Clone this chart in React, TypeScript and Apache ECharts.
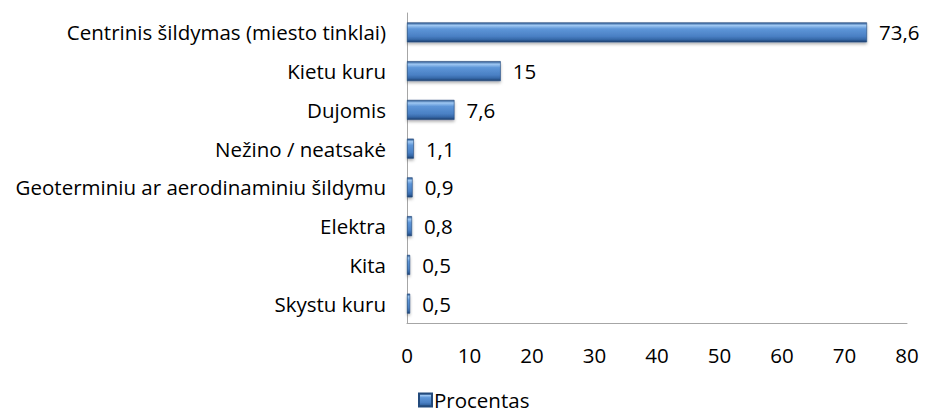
import React, { useEffect, useRef } from "react";
import * as echarts from "echarts";

const categories = [
  "Centrinis šildymas (miesto tinklai)",
  "Kietu kuru",
  "Dujomis",
  "Nežino / neatsakė",
  "Geoterminiu ar aerodinaminiu šildymu",
  "Elektra",
  "Kita",
  "Skystu kuru",
];
const values = [73.6, 15, 7.6, 1.1, 0.9, 0.8, 0.5, 0.5];
const seriesName = "Procentas";

const FONT = "'Open Sans', sans-serif";
const FS = 20.5;

export default function App() {
  const ref = useRef<HTMLDivElement>(null);
  useEffect(() => {
    if (!ref.current) return;
    const chart = echarts.init(ref.current, undefined, { renderer: "svg" });
    const grad = new echarts.graphic.LinearGradient(0, 0, 0, 1, [
      { offset: 0, color: "#24528c" },
      { offset: 0.14, color: "#9fc8f3" },
      { offset: 0.32, color: "#5e96d8" },
      { offset: 0.7, color: "#4a80c4" },
      { offset: 0.86, color: "#3669a9" },
      { offset: 1, color: "#1d3f6e" },
    ]);
    chart.setOption({
      animation: false,
      textStyle: { fontFamily: FONT },
      grid: { left: 407, right: 24, top: 13, bottom: 93, containLabel: false },
      legend: {
        top: 389,
        left: 418,
        itemWidth: 13,
        itemHeight: 13,
        itemGap: 4,
        padding: 0,
        textStyle: {
          fontSize: FS,
          lineHeight: 22,
          color: "#000",
          fontFamily: FONT,
          padding: [0, 0, 0, -3],
        },
        data: [{ name: seriesName, icon: "rect", itemStyle: { color: grad } }],
      },
      xAxis: {
        type: "value",
        min: 0,
        max: 80,
        interval: 10,
        axisLine: { show: true, lineStyle: { color: "#a6a6a6" } },
        axisTick: { show: false },
        splitLine: { show: false },
        axisLabel: { fontSize: FS, color: "#000", margin: 21, fontFamily: FONT },
      },
      yAxis: {
        type: "category",
        inverse: true,
        data: categories,
        axisLine: { show: true, lineStyle: { color: "#a6a6a6" } },
        axisTick: { show: false },
        axisLabel: { fontSize: FS, color: "#000", margin: 21, fontFamily: FONT },
      },
      series: [
        {
          name: seriesName,
          type: "bar",
          data: values,
          barWidth: 20,
          itemStyle: {
            color: grad,
            borderColor: "#234a7c",
            borderWidth: 0.6,
            shadowColor: "rgba(0,0,0,0.3)",
            shadowBlur: 3,
            shadowOffsetY: 2,
          },
          label: {
            show: true,
            position: "right",
            distance: 12,
            fontSize: FS,
            color: "#000",
            fontFamily: FONT,
            formatter: (p: any) => String(p.value).replace(".", ","),
          },
        },
      ],
    });
    return () => chart.dispose();
  }, []);
  return <div ref={ref} style={{ width: 931, height: 416, margin: -8 }} />;
}
